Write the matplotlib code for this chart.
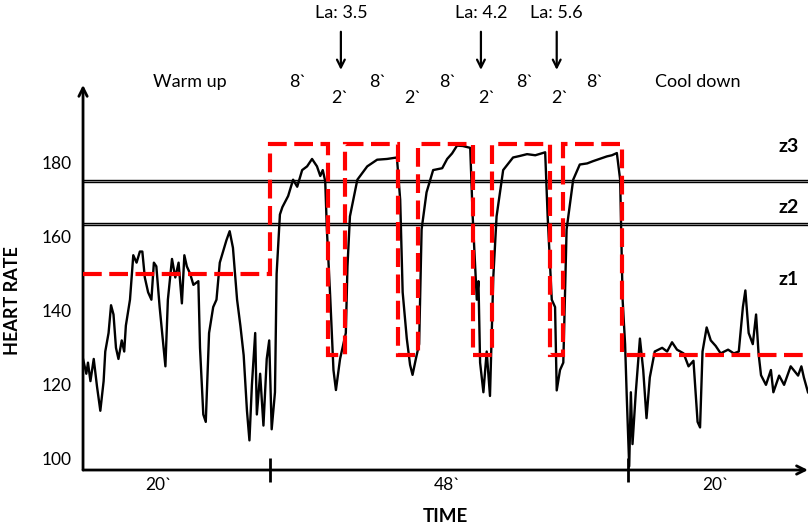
import numpy as np
import matplotlib
matplotlib.use("Agg")
import matplotlib.pyplot as plt

plt.rcParams['font.family'] = ['Lato', 'DejaVu Sans']

# heart rate trace (time in min, bpm)
time_min = [0.0, 0.4, 0.6, 0.9, 1.3, 1.7, 2.1, 2.5, 2.7, 3.1, 3.4, 3.7, 4.0, 4.3, 4.7, 5.0,
            5.2, 5.7, 6.1, 6.5, 6.9, 7.2, 7.5, 7.9, 8.3, 8.6, 8.9, 9.3, 10.0, 10.3, 10.8, 11.2,
            11.6, 12.0, 12.3, 12.6, 13.0, 13.4, 14.0, 14.2, 14.6, 14.9, 15.3, 15.8, 16.2, 16.6,
            17.0, 17.4, 17.8, 18.2, 18.7, 19.1, 19.5, 19.9, 20.2, 20.5, 20.9, 21.1, 21.5, 21.9,
            22.3, 22.6, 22.9, 23.3, 23.5, 23.9,
            24.2, 24.9, 25.5, 26.0, 26.6, 27.2, 27.8, 28.4, 28.8, 29.1, 29.4, 29.6, 30.0, 30.4,
            30.7, 31.2, 31.6, 31.9, 32.1, 32.4, 33.3, 34.5, 35.7, 36.9, 38.1, 38.5, 38.8, 39.3,
            39.7, 40.0, 40.4, 40.8, 41.1, 41.7, 42.5, 43.6, 44.2, 44.8, 45.4, 46.1, 47.0, 47.3,
            47.8, 48.0, 48.2, 48.6, 49.0, 49.4, 49.8, 50.2, 51.0, 52.2, 53.0, 53.9, 54.9, 56.1,
            56.4, 56.9, 57.3, 57.5, 57.9, 58.3, 58.7, 59.5, 60.3, 61.2, 61.9, 62.7, 63.6, 64.2,
            64.8, 65.2, 65.5, 65.8, 66.0, 66.3, 66.5, 66.7, 67.1, 67.6, 68.0, 68.4, 68.8, 69.4,
            70.3, 70.9, 71.5, 72.1, 72.9, 73.5, 74.1, 74.6, 74.9, 75.2, 75.7, 76.2, 76.8, 77.4,
            78.3, 79.0, 79.6, 80.1, 80.4, 80.8, 81.3, 81.7, 82.0, 82.3, 82.9, 83.5, 83.8, 84.5,
            85.1, 85.9, 86.8, 87.2, 87.5, 88.0]
heart_rate = [127, 123, 126, 121, 127, 119.5, 113, 121, 129, 134, 141.5, 139, 130, 127, 132, 129,
              136, 143, 155, 153, 156, 156, 149, 145, 143, 153, 152, 141, 125, 143, 154, 149,
              153, 142, 155, 152, 150, 147, 148, 130, 112, 110, 134, 141, 143, 153,
              156, 159, 161.5, 157, 143, 136, 128, 113, 105, 120, 134, 112, 123, 109,
              127, 132, 108, 118, 150, 166,
              168, 171, 175.4, 173.5, 178, 179, 181, 179, 176.4, 178, 175, 162, 144, 124,
              118.6, 127, 131, 134, 152, 165.5, 175.4, 179, 180.8, 181, 181.4, 170, 145, 132.5,
              125.4, 122.7, 127, 131, 162, 172, 178, 178.5, 181, 182.5, 184.6, 184.5, 184, 165.5,
              143, 148, 126, 118, 129, 117, 149, 165.5, 178, 181.4, 181.8, 182.3, 182, 182.8,
              165.5, 143, 141, 118.5, 124, 126, 162, 175.4, 179.5, 179.8, 180.4, 181, 181.7, 182,
              182.6, 175.4, 143, 131, 117, 98, 118, 104, 118, 132.5, 124, 111, 122, 129,
              130, 129, 131.5, 129.5, 128.5, 125, 126.5, 110, 108.5, 129, 135.5, 132, 130.5, 128.5,
              129.5, 128.5, 129, 141, 145.5, 134, 131, 139, 128.5, 122.6, 120, 124, 118, 122.5,
              120, 125, 122.5, 125, 122, 118]

# target plan (red dashed)
plan_edges = [0, 22.7, 29.7, 31.8, 38.2, 40.7, 47.3, 49.6, 56.7, 58.3, 65.4, 88]
plan_levels = [150, 185, 128, 185, 128, 185, 128, 185, 128, 185, 128]

# zone boundaries (double lines)
zone_bounds = [175.0, 163.5]
zone_labels = ['z3', 'z2', 'z1']
zone_label_y = [184.3, 167.8, 148.4]

phase_ticks = [22.7, 66.1]
phase_labels = ['20`', '48`', '20`']
phase_label_x = [9.2, 44.2, 76.8]

work_x = [26.1, 35.8, 44.3, 53.6, 62.1]
rest_x = [31.2, 40.0, 49.0, 57.9]
lactate = ['3.5', '4.2', '5.6']
lactate_x = [31.3, 48.3, 57.5]

fig = plt.figure(figsize=(8.1, 5.29), dpi=100)
ax = fig.add_axes([0.1025, 0.1115, 0.895, 0.728])

ax.set_xlim(0, 88)
ax.set_ylim(97, 201)

# zone double lines
for b in zone_bounds:
    ax.fill_between([0, 88], b - 0.3, b + 0.3, color='#c8c8c8', lw=0, zorder=1)
    ax.axhline(b + 0.3, color='black', lw=1.0, zorder=2)
    ax.axhline(b - 0.3, color='black', lw=1.0, zorder=2)

ax.plot(time_min, heart_rate, color='black', lw=1.7, zorder=3)

ax.stairs(plan_levels, plan_edges, baseline=None, color='red', lw=3,
          linestyle=(0, (4.5, 1.8)), zorder=4)

# axes with arrow heads
for s in ['top', 'right', 'left', 'bottom']:
    ax.spines[s].set_visible(False)
ax.annotate('', xy=(0, 1), xytext=(0, 0), xycoords='axes fraction',
            arrowprops=dict(arrowstyle='->', lw=2, color='black', mutation_scale=15,
                            shrinkA=0, shrinkB=0))
ax.annotate('', xy=(1, 0), xytext=(0, 0), xycoords='axes fraction',
            arrowprops=dict(arrowstyle='->', lw=2, color='black', mutation_scale=15,
                            shrinkA=0, shrinkB=0))

ax.set_yticks([100, 120, 140, 160, 180])
ax.tick_params(axis='y', length=0, pad=8, labelsize=12.5)
ax.set_xticks(phase_ticks)
ax.set_xticklabels([])
ax.tick_params(axis='x', direction='inout', length=17, width=2)

ax.set_ylabel('HEART RATE', fontsize=13, fontweight='bold')
ax.yaxis.set_label_coords(-0.085, 0.44)
ax.set_xlabel('TIME', fontsize=13.5, fontweight='bold')
ax.xaxis.set_label_coords(0.5, -0.098)

trans = ax.get_xaxis_transform()
for x, lab in zip(phase_label_x, phase_labels):
    ax.text(x, -0.038, lab, transform=trans, ha='center', va='center', fontsize=12.5)

fs = 13
ax.text(13.0, 1.008, 'Warm up', transform=trans, ha='center', va='center', fontsize=fs)
ax.text(74.6, 1.008, 'Cool down', transform=trans, ha='center', va='center', fontsize=fs)
for x in work_x:
    ax.text(x, 1.008, '8`', transform=trans, ha='center', va='center', fontsize=fs)
for x in rest_x:
    ax.text(x, 0.966, '2`', transform=trans, ha='center', va='center', fontsize=fs)
for x, la in zip(lactate_x, lactate):
    ax.text(x, 1.187, 'La: ' + la, transform=trans, ha='center', va='center', fontsize=fs)
    ax.annotate('', xy=(x, 1.039), xytext=(x, 1.138), xycoords=trans,
                arrowprops=dict(arrowstyle='->', lw=1.6, color='black', mutation_scale=14,
                                shrinkA=0, shrinkB=0), annotation_clip=False)

for lab, y in zip(zone_labels, zone_label_y):
    ax.text(85.6, y, lab, ha='center', va='center', fontsize=14, fontweight='bold')

fig.savefig('out.png', dpi=100)
